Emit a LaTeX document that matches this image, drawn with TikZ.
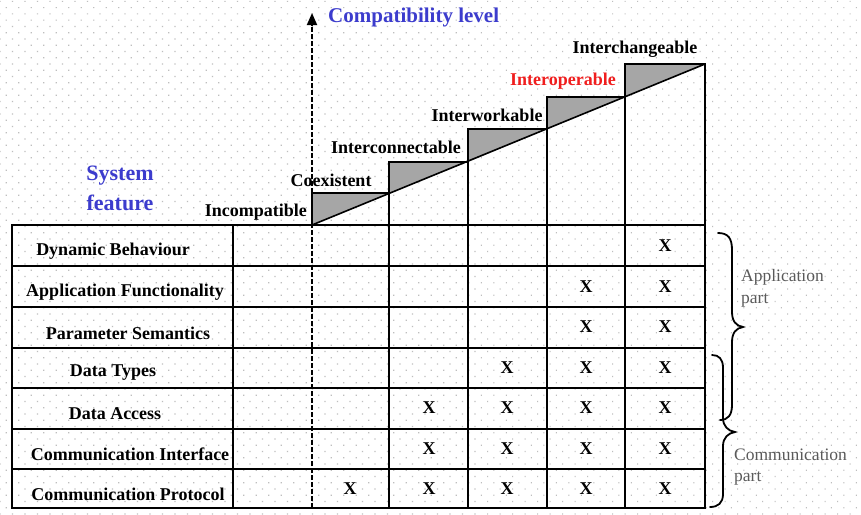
\documentclass[tikz,border=0pt]{standalone}
\usepackage{fontspec}
\setmainfont{Liberation Serif}
\usetikzlibrary{arrows.meta,patterns.meta}
\definecolor{featblue}{RGB}{60,60,205}
\definecolor{oprred}{RGB}{240,30,30}
\definecolor{partgray}{RGB}{90,90,90}
\definecolor{dotgray}{RGB}{190,190,190}
\begin{document}
\begin{tikzpicture}[x=1pt,y=-1pt,
  grid/.style={line width=1.6pt,black},
  shade/.style={fill=black!35},
  steplab/.style={font=\fontsize{18}{20}\selectfont\bfseries,inner sep=0pt},
  rowlab/.style={font=\fontsize{18}{20}\selectfont\bfseries,inner sep=0pt},
  xmark/.style={font=\fontsize{18}{20}\selectfont\bfseries,inner sep=0pt},
  bluelab/.style={font=\fontsize{21}{24}\selectfont\bfseries,text=featblue,inner sep=0pt},
  partlab/.style={font=\fontsize{17.5}{20}\selectfont,text=partgray,inner sep=0pt,anchor=west},
  bracestyle/.style={line width=1.8pt,black,line cap=round}]
\useasboundingbox (0,0) rectangle (861,514);
\fill[white] (0,0) rectangle (861,514);
\fill[pattern={Dots[distance=8.84pt,radius=0.8pt,angle=45]},pattern color=dotgray] (0,0) rectangle (861,514);

% shaded triangles of the staircase
\fill[shade] (312,225) -- (312,193) -- (389,193) -- cycle;
\fill[shade] (389,193) -- (389,162) -- (468,162) -- cycle;
\fill[shade] (468,162) -- (468,129) -- (547,129) -- cycle;
\fill[shade] (547,129) -- (547,97) -- (625,97) -- cycle;
\fill[shade] (625,97) -- (625,64) -- (705,64) -- cycle;

% staircase outline
\draw[grid] (312,225) -- (312,193) -- (389,193);
\draw[grid] (389,508) -- (389,162) -- (468,162);
\draw[grid] (468,508) -- (468,129) -- (547,129);
\draw[grid] (547,508) -- (547,97) -- (625,97);
\draw[grid] (625,508) -- (625,64) -- (705,64) -- (705,225);
\draw[grid] (312,225) -- (705,64);

% table
\draw[grid] (12,225) rectangle (705,508);
\foreach \yy in {266,307,348,388,429,469} \draw[grid] (12,\yy) -- (705,\yy);
\draw[grid] (233,225) -- (233,508);

% axis
\coordinate (axbot) at (312,508);
\coordinate (axtop) at (312,13);
\draw[line width=1.8pt,dash pattern=on 5pt off 2pt,-{Triangle[length=12pt,width=10pt]}] (axbot) -- (axtop);

% compatibility labels
\node[bluelab,anchor=west] (compat) at (328,17) {Compatibility level};
\node[steplab,anchor=east] (incomp) at (307,212) {Incompatible};
\node[steplab] (coex) at (331,180) {Coexistent};
\node[steplab] (icon) at (396,147) {Interconnectable};
\node[steplab] (iwork) at (487,115) {Interworkable};
\node[steplab,text=oprred] (iop) at (563,81) {Interoperable};
\node[steplab] (ichg) at (635,49) {Interchangeable};

% system feature
\node[bluelab,font=\fontsize{22}{30}\selectfont\bfseries,align=center] (sysfeat) at (120,188) {System\\feature};

% row labels
\node[rowlab] (r1) at (113,251) {Dynamic Behaviour};
\node[rowlab] (r2) at (125,292) {Application Functionality};
\node[rowlab] (r3) at (128,333) {Parameter Semantics};
\node[rowlab] (r4) at (113,373) {Data Types};
\node[rowlab] (r5) at (115,414) {Data Access};
\node[rowlab] (r6) at (130,454) {Communication Interface};
\node[rowlab] (r7) at (128,494) {Communication Protocol};

% X marks
\node[xmark] (x17) at (665,246) {X};
\node[xmark] (x26) at (586,287) {X};
\node[xmark] (x27) at (665,287) {X};
\node[xmark] (x36) at (586,327) {X};
\node[xmark] (x37) at (665,327) {X};
\node[xmark] (x45) at (507,368) {X};
\node[xmark] (x46) at (586,368) {X};
\node[xmark] (x47) at (665,368) {X};
\node[xmark] (x54) at (429,408) {X};
\node[xmark] (x55) at (507,408) {X};
\node[xmark] (x56) at (586,408) {X};
\node[xmark] (x57) at (665,408) {X};
\node[xmark] (x64) at (429,449) {X};
\node[xmark] (x65) at (507,449) {X};
\node[xmark] (x66) at (586,449) {X};
\node[xmark] (x67) at (665,449) {X};
\node[xmark] (x73) at (350,489) {X};
\node[xmark] (x74) at (429,489) {X};
\node[xmark] (x75) at (507,489) {X};
\node[xmark] (x76) at (586,489) {X};
\node[xmark] (x77) at (665,489) {X};

% braces
\draw[bracestyle] (718,233) .. controls (728,233) and (732,238) .. (732,250) -- (732,312)
  .. controls (732,321) and (736,326) .. (743,327)
  .. controls (736,328) and (732,333) .. (732,342) -- (732,405)
  .. controls (732,415) and (728,420) .. (720,420);
\draw[bracestyle] (712,355) .. controls (719,355) and (723,359) .. (723,368) -- (723,418)
  .. controls (723,426) and (728,431) .. (735,432)
  .. controls (728,433) and (723,438) .. (723,446) -- (723,494)
  .. controls (723,503) and (718,507) .. (710,507);

\node[partlab] (app1) at (741,277) {Application};
\node[partlab] (app2) at (741,300) {part};
\node[partlab] (com1) at (734,455) {Communication};
\node[partlab] (com2) at (734,478) {part};
\end{tikzpicture}
\end{document}
